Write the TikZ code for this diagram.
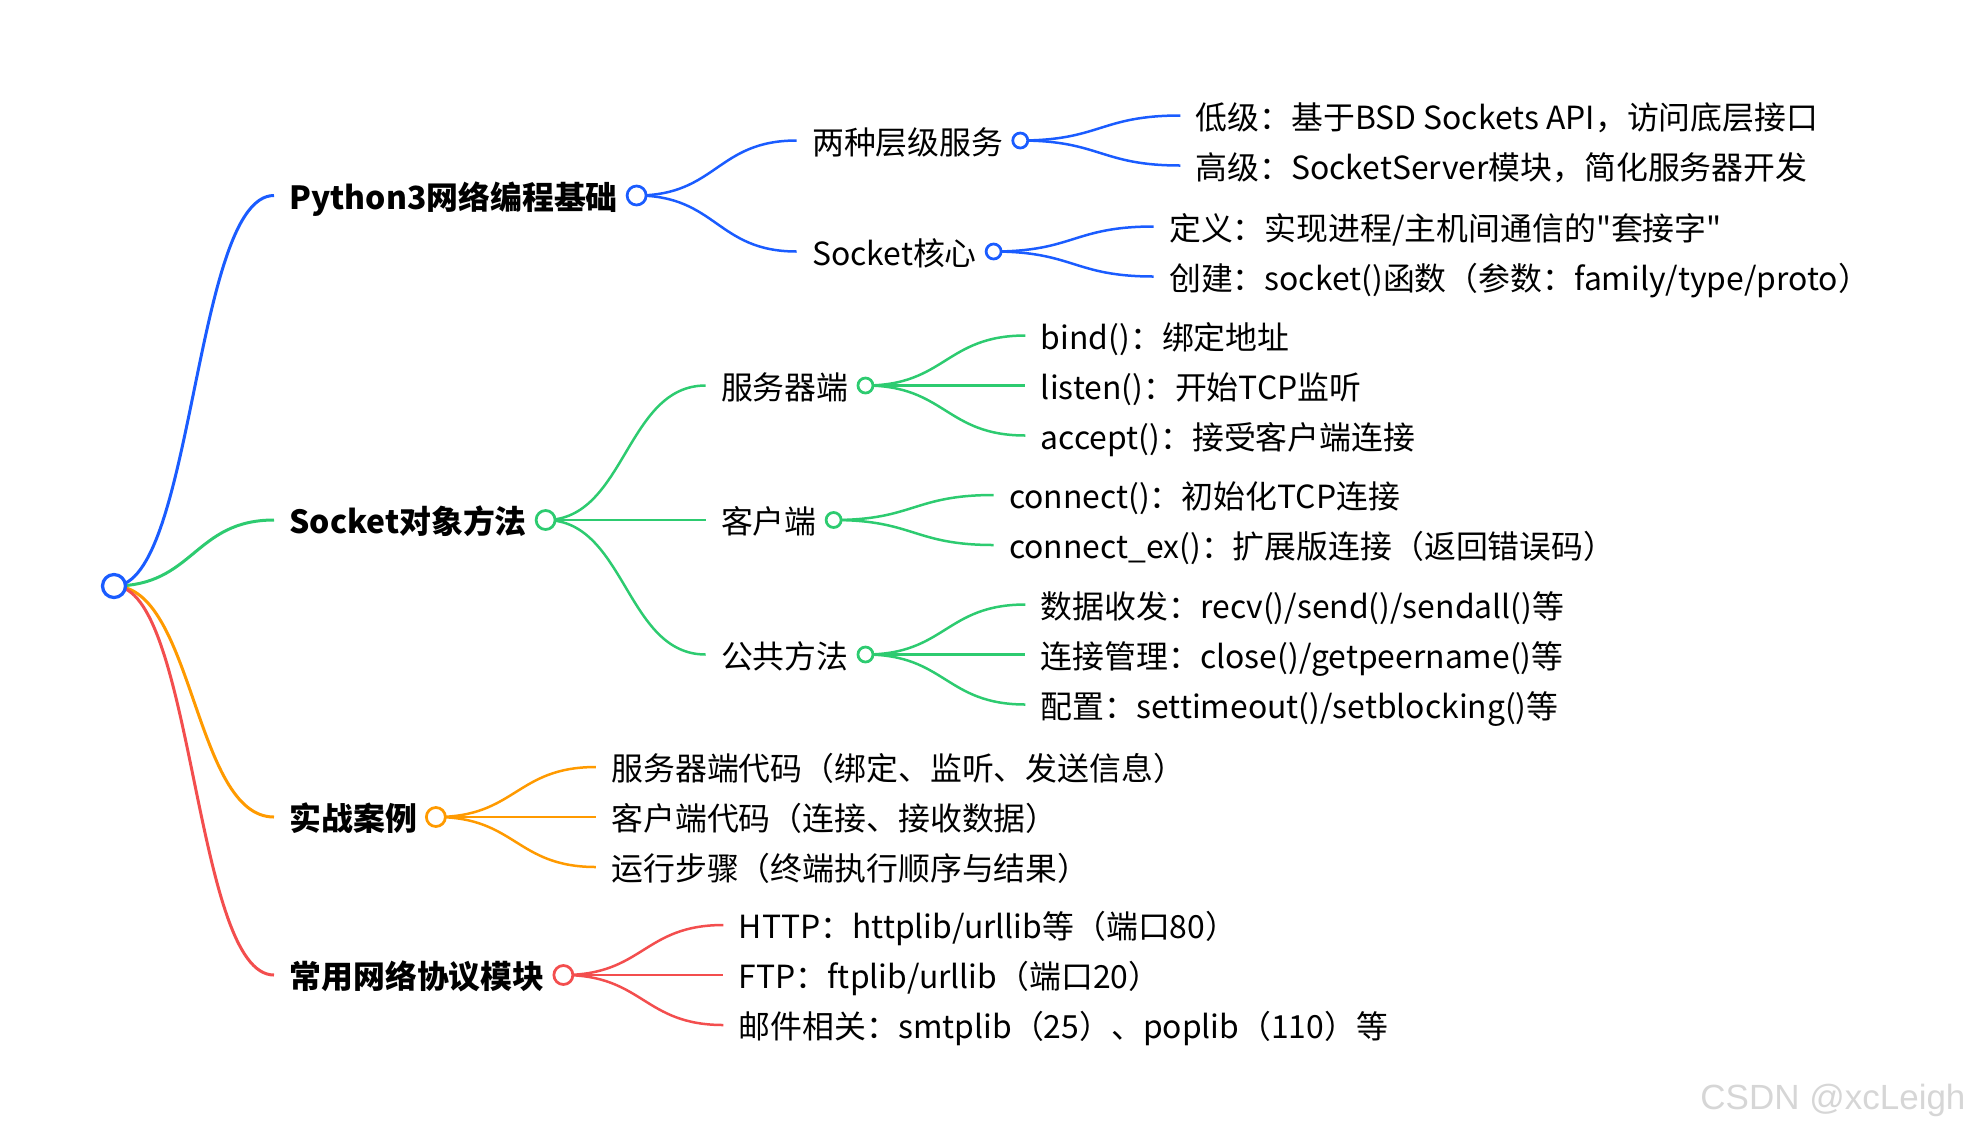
\documentclass[tikz,border=0pt]{standalone}
\usepackage{fontspec}
\newfontfamily\cjkfont{Noto Sans CJK SC}
\newfontfamily\wmfont{Liberation Sans}
\usetikzlibrary{positioning,calc,backgrounds}
\definecolor{mblue}{HTML}{1A5CFF}
\definecolor{mgreen}{HTML}{2DCB70}
\definecolor{morange}{HTML}{FF9A00}
\definecolor{mred}{HTML}{F34E4E}
\definecolor{wmgray}{HTML}{D6D6D6}
\begin{document}
\begin{tikzpicture}[x=0.4pt,y=-0.4pt,
	every node/.style={font=\cjkfont\fontsize{12.75pt}{15pt}\selectfont},
	txt/.style={inner sep=0pt,text height=11.9pt,text depth=0.8pt},
	head/.style={txt,font=\cjkfont\fontsize{12.75pt}{15pt}\selectfont\bfseries},
	ring/.style={circle,draw=#1,fill=white,line width=1.1pt,inner sep=0pt,minimum size=7.6pt},
	sring/.style={ring=#1,minimum size=6pt},
	link/.style={draw=#1,line width=1pt,
		to path={let \p1=(\tikztostart),\p2=(\tikztotarget) in
			.. controls ({(\x1+\x2)/2},\y1) and ({(\x1+\x2)/2},\y2) .. (\tikztotarget)}}]
\useasboundingbox (0,0) rectangle (1972,1134);
\node[ring=mblue,minimum size=9.2pt,line width=1.3pt] (root) at (114,586) {};
% first level
\coordinate (e1) at ($(root)+(160,-390.5)$);
\node[head,right=6pt of e1] (t1) {Python3网络编程基础};
\node[ring=mblue,right=3pt of t1] (c1) {};
\coordinate (e2) at ($(root)+(160,-66)$);
\node[head,right=6pt of e2] (t2) {Socket对象方法};
\node[ring=mgreen,right=3pt of t2] (c2) {};
\coordinate (e3) at ($(root)+(160,231)$);
\node[head,right=6pt of e3] (t3) {实战案例};
\node[ring=morange,right=3pt of t3] (c3) {};
\coordinate (e4) at ($(root)+(160,389)$);
\node[head,right=6pt of e4] (t4) {常用网络协议模块};
\node[ring=mred,right=3pt of t4] (c4) {};
% Python3
\coordinate (e11) at ($(c1)+(160,-55)$);
\node[txt,right=6pt of e11] (t11) {两种层级服务};
\node[sring=mblue,right=3pt of t11] (c11) {};
\coordinate (e12) at ($(c1)+(160,56)$);
\node[txt,right=6pt of e12] (t12) {Socket核心};
\node[sring=mblue,right=3pt of t12] (c12) {};
\coordinate (e111) at ($(c11)+(160,-25)$);
\node[txt,right=6pt of e111] (t111) {低级：基于BSD Sockets API，访问底层接口};
\coordinate (e112) at ($(c11)+(160,25)$);
\node[txt,right=6pt of e112] (t112) {高级：SocketServer模块，简化服务器开发};
\coordinate (e121) at ($(c12)+(160,-25)$);
\node[txt,right=6pt of e121] (t121) {定义：实现进程/主机间通信的"套接字"};
\coordinate (e122) at ($(c12)+(160,25)$);
\node[txt,right=6pt of e122] (t122) {创建：socket()函数（参数：family/type/proto）};
% Socket methods
\coordinate (e21) at ($(c2)+(160,-134.5)$);
\node[txt,right=6pt of e21] (t21) {服务器端};
\node[sring=mgreen,right=3pt of t21] (c21) {};
\coordinate (e22) at ($(c2)+(160,0)$);
\node[txt,right=6pt of e22] (t22) {客户端};
\node[sring=mgreen,right=3pt of t22] (c22) {};
\coordinate (e23) at ($(c2)+(160,134.5)$);
\node[txt,right=6pt of e23] (t23) {公共方法};
\node[sring=mgreen,right=3pt of t23] (c23) {};
\coordinate (e211) at ($(c21)+(160,-50)$);
\node[txt,right=6pt of e211] (t211) {bind()：绑定地址};
\coordinate (e212) at ($(c21)+(160,0)$);
\node[txt,right=6pt of e212] (t212) {listen()：开始TCP监听};
\coordinate (e213) at ($(c21)+(160,50)$);
\node[txt,right=6pt of e213] (t213) {accept()：接受客户端连接};
\coordinate (e221) at ($(c22)+(160,-25)$);
\node[txt,right=6pt of e221] (t221) {connect()：初始化TCP连接};
\coordinate (e222) at ($(c22)+(160,25)$);
\node[txt,right=6pt of e222] (t222) {connect\_ex()：扩展版连接（返回错误码）};
\coordinate (e231) at ($(c23)+(160,-50)$);
\node[txt,right=6pt of e231] (t231) {数据收发：recv()/send()/sendall()等};
\coordinate (e232) at ($(c23)+(160,0)$);
\node[txt,right=6pt of e232] (t232) {连接管理：close()/getpeername()等};
\coordinate (e233) at ($(c23)+(160,50)$);
\node[txt,right=6pt of e233] (t233) {配置：settimeout()/setblocking()等};
% practice
\coordinate (e31) at ($(c3)+(160,-50)$);
\node[txt,right=6pt of e31] (t31) {服务器端代码（绑定、监听、发送信息）};
\coordinate (e32) at ($(c3)+(160,0)$);
\node[txt,right=6pt of e32] (t32) {客户端代码（连接、接收数据）};
\coordinate (e33) at ($(c3)+(160,50)$);
\node[txt,right=6pt of e33] (t33) {运行步骤（终端执行顺序与结果）};
% protocols
\coordinate (e41) at ($(c4)+(160,-50)$);
\node[txt,right=6pt of e41] (t41) {HTTP：httplib/urllib等（端口80）};
\coordinate (e42) at ($(c4)+(160,0)$);
\node[txt,right=6pt of e42] (t42) {FTP：ftplib/urllib（端口20）};
\coordinate (e43) at ($(c4)+(160,50)$);
\node[txt,right=6pt of e43] (t43) {邮件相关：smtplib（25）、poplib（110）等};
\begin{scope}[on background layer]
\draw[link=mblue,line width=1.2pt] (root.center) to (e1);
\draw[link=mgreen,line width=1.2pt] (root.center) to (e2);
\draw[link=morange,line width=1.2pt] (root.center) to (e3);
\draw[link=mred,line width=1.2pt] (root.center) to (e4);
\foreach \i in {11,12} \draw[link=mblue] (c1.center) to (e\i);
\foreach \i in {111,112} \draw[link=mblue] (c11.center) to (e\i);
\foreach \i in {121,122} \draw[link=mblue] (c12.center) to (e\i);
\foreach \i in {21,22,23} \draw[link=mgreen] (c2.center) to (e\i);
\foreach \i in {211,212,213} \draw[link=mgreen] (c21.center) to (e\i);
\foreach \i in {221,222} \draw[link=mgreen] (c22.center) to (e\i);
\foreach \i in {231,232,233} \draw[link=mgreen] (c23.center) to (e\i);
\foreach \i in {31,32,33} \draw[link=morange] (c3.center) to (e\i);
\foreach \i in {41,42,43} \draw[link=mred] (c4.center) to (e\i);
\end{scope}
\node[font=\wmfont\fontsize{14pt}{16pt}\selectfont,text=wmgray,anchor=east,inner sep=0pt] (mark) at (1966,1100) {CSDN @xcLeigh};
\end{tikzpicture}
\end{document}
